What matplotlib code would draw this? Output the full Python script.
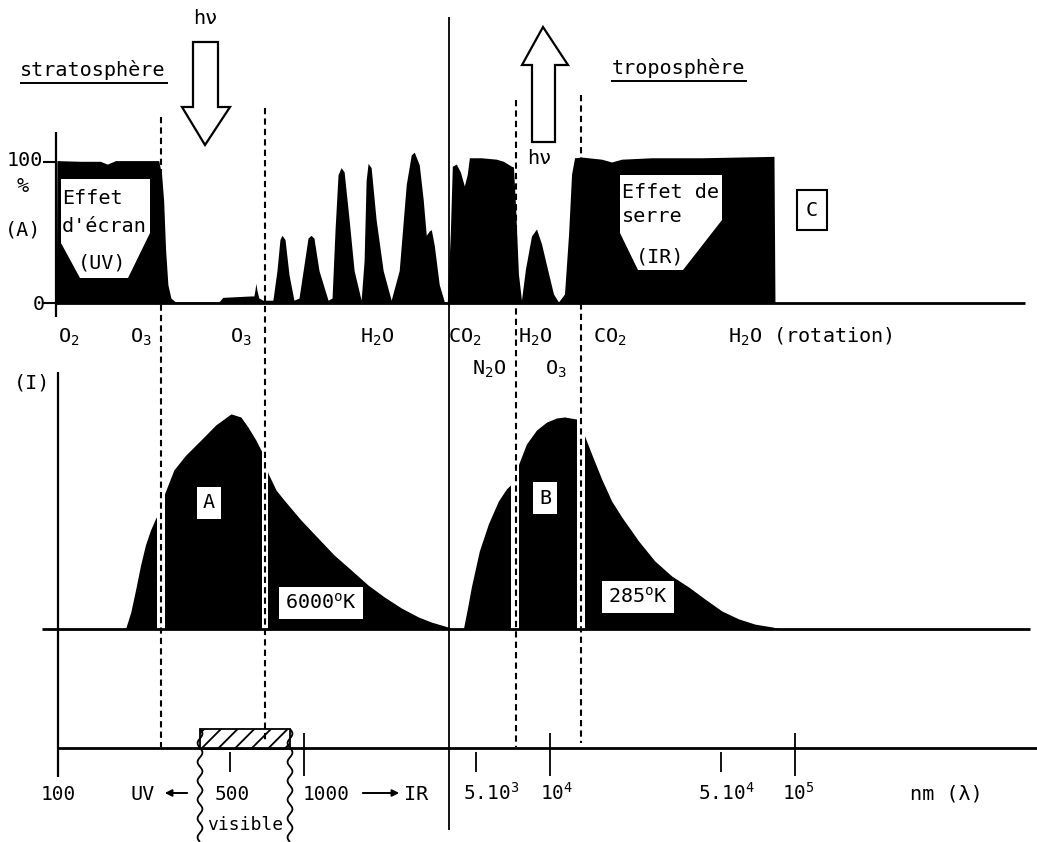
import numpy as np
import matplotlib
matplotlib.use("Agg")
import matplotlib.pyplot as plt
from matplotlib.patches import Polygon, Rectangle
from matplotlib.transforms import blended_transform_factory

plt.rcParams['font.family'] = ['DejaVu Sans Mono']
plt.rcParams['mathtext.fontset'] = 'custom'
plt.rcParams['mathtext.rm'] = 'DejaVu Sans Mono'
plt.rcParams['mathtext.it'] = 'DejaVu Sans Mono'
plt.rcParams['mathtext.default'] = 'regular'
plt.rcParams['hatch.linewidth'] = 1.3

# (A) atmospheric absorption, % vs wavelength in nm
abs_wl = [98, 98.5, 123, 148, 158, 171, 216, 256, 263, 268, 273, 279, 287, 300, 450, 467,
          608, 625, 631, 637, 643, 655, 680, 720,
          747, 776, 798, 813, 837, 869, 910,
          954, 1000, 1038, 1068, 1098, 1151, 1253,
          1301, 1338, 1376, 1416, 1457, 1527, 1600, 1709,
          1757, 1791, 1824, 1877, 1967, 2101, 2265,
          2442, 2609, 2734, 2812, 2948, 3060, 3148, 3237, 3300, 3393, 3556, 3728,
          3834, 3944, 4019, 4173, 4332, 4499, 4627, 4716, 5278, 6077, 6491, 6997, 7131, 7266, 7473, 7687,
          7980, 8445, 8849, 9276, 9813, 10380, 10880,
          11510, 11960, 12300, 12650, 13510, 16300, 17910, 19680, 26080, 41730, 82100, 82870]
abs_pct = [0, 101, 100.5, 100.5, 98.5, 101, 101, 101, 91, 73, 38, 13, 3.5, 0.7, 0.7, 4,
           5, 5, 9, 14, 9, 3.5, 2, 2,
           2, 23, 45, 48, 45, 20, 2,
           3.5, 27, 46, 48, 46, 23, 2,
           3.5, 52, 91, 96, 93, 59, 23, 2,
           30, 87, 99, 96, 59, 23, 2,
           23, 84, 105, 107, 98, 73, 48, 51, 52, 41, 13, 1,
           0, 49, 97, 98.5, 93, 83, 91.5, 103, 103, 102, 100.5, 97, 96.5, 70, 20.5, 2,
           24, 47.5, 52.5, 42, 24, 6.4, 0.7,
           6.4, 49, 91.5, 103, 103.5, 102, 100, 102, 103, 103, 104, 0]

# (I) emission of the sun (6000 K) and of the earth (285 K), arbitrary units
sun_wl = [188, 197, 206, 216, 226, 237, 249, 253, 271, 295, 330, 380, 437, 504, 553, 591, 637, 674,
          713, 769, 829, 972, 1140, 1326, 1555, 1824, 2121, 2489, 2920, 3300, 3728, 3981]
sun_int = [0.4, 6.6, 15.2, 24.9, 32.7, 38.5, 43.2, 44, 52.9, 61.9, 67.7, 73.5, 79.4, 83.7, 82.5, 78.6, 73.5, 68.9,
           60.7, 54.1, 50.2, 42.4, 35.4, 28.8, 23.0, 17.1, 12.5, 8.2, 4.7, 2.7, 1.2, 0.4]
earth_wl = [4457, 4627, 4804, 5180, 5637, 6191, 6675, 6997, 7545, 8056, 8849, 9722, 10680, 11510, 12890,
            13900, 14840, 16300, 17910, 19680, 23080, 26830, 31480, 36940, 42920, 50360, 59080, 68660, 80560, 88480]
earth_int = [0, 7.8, 16.3, 30.4, 40.9, 49.8, 54.5, 56.4, 65, 72, 77.4, 80.5, 82.1, 82.5, 81.7,
             75.1, 68.1, 58.4, 49.8, 43.6, 34.2, 26.5, 20.6, 16.3, 11.7, 7.0, 3.9, 1.9, 0.8, 0]

# windows cut out of the spectra (absorption band limits)
gap_lo = [253, 674, 6997, 12890]
gap_hi = [271, 713, 7545, 13900]
band_edges = [262, 695, 7300, 13400]
split_wl = 3900

# wavelength axis
tick_wl = [500, 1000, 5000, 1e4, 5e4, 1e5]
tick_major = [False, True, False, True, False, True]
tick_text = ['100', '500', '1000', '5.10$^3$', '10$^4$', '5.10$^4$', '10$^5$']
tick_text_wl = [100, 500, 1000, 5000, 1e4, 5e4, 1e5]

W, H = 1037, 842
fig = plt.figure(figsize=(10.37, 8.42), dpi=100)
x0_px, dec_px = 58.5, 245.5
wl_lo = 10 ** (2 - x0_px / dec_px)
wl_hi = 10 ** (2 + (W - x0_px) / dec_px)


def band(row_bottom, row_top):
    return [0, 1 - row_bottom / H, 1, (row_bottom - row_top) / H]


ax_a = fig.add_axes(band(303, 132), label='absorption')
ax_i = fig.add_axes(band(629, 372), label='intensity')
ax = fig.add_axes([0, 0, 1, 1], label='wavelength')
ax_p = fig.add_axes([0, 0, 1, 1], label='page')
for a in (ax_a, ax_i, ax):
    a.set_xscale('log')
    a.set_xlim(wl_lo, wl_hi)
ax_a.set_ylim(0, 100 * (303 - 132) / 141)
ax_i.set_ylim(0, 100)
ax.set_ylim(H, 0)
ax_p.set_xlim(0, W)
ax_p.set_ylim(H, 0)
for a in (ax_a, ax_i, ax, ax_p):
    a.axis('off')

# curves
ax_a.fill_between(abs_wl, abs_pct, 0, color='black', lw=0)
ax_i.fill_between(sun_wl, sun_int, 0, color='black', lw=0)
ax_i.fill_between(earth_wl, earth_int, 0, color='black', lw=0)
for lo, hi in zip(gap_lo, gap_hi):
    ax_i.axvspan(lo, hi, color='white', lw=0)

# band limits and separation
ax.vlines(band_edges, [117, 108, 100, 95], [747, 740, 747, 743], colors='black', lw=1.5, linestyles=(0, (3, 2)))
ax.vlines(split_wl, 17, 830, colors='black', lw=1.3)

# wavelength ticks
for wl, major in zip(tick_wl, tick_major):
    if major:
        ax.vlines(wl, 733, 776, colors='black', lw=1.3)
    else:
        ax.vlines(wl, 752, 772, colors='black', lw=1.3)
label_dx = [0, 2, 22, 16, 7, 5, 3]
for wl, txt, dx in zip(tick_text_wl, tick_text, label_dx):
    ax.annotate(txt, xy=(wl, 800), xytext=(dx * 0.72, 0), textcoords='offset points',
                ha='center', va='baseline', fontsize=14)

# axis lines
lk = dict(color='black', solid_capstyle='butt')
ax_p.plot([56, 56], [132, 317], lw=1.6, **lk)
ax_p.plot([56, 1025], [303, 303], lw=2.0, **lk)
ax_p.plot([58, 58], [372, 777], lw=1.6, **lk)
ax_p.plot([42, 1030], [629, 629], lw=2.0, **lk)
ax_p.plot([58, 1037], [748, 748], lw=2.0, **lk)
tr = blended_transform_factory(ax_p.transData, ax_a.transData)
for v in (0, 100):
    ax_p.plot([43, 56], [v, v], transform=tr, lw=1.5, **lk)

fs = 14.5
ax_p.text(43, 160, '100', ha='right', va='center', fontsize=fs)
ax_p.text(45, 305, '0', ha='right', va='center', fontsize=fs)
ax_p.text(23, 187, '%', ha='center', va='center', fontsize=fs)
ax_p.text(23, 230, '(A)', ha='center', va='center', fontsize=fs)
ax_p.text(32, 383, '(I)', ha='center', va='center', fontsize=fs)

# titles
ax_p.text(20, 70, 'stratosphère', ha='left', va='center', fontsize=fs)
ax_p.plot([20, 168], [83, 83], lw=1.4, **lk)
ax_p.text(612, 68, 'troposphère', ha='left', va='center', fontsize=fs)
ax_p.plot([611, 747], [81, 81], lw=1.4, **lk)

# incoming / outgoing radiation arrows
ax_p.add_patch(Polygon([(193, 42), (218, 42), (218, 107), (230, 107), (205, 145), (182, 107), (193, 107)],
                       closed=True, fc='white', ec='black', lw=1.6))
ax_p.text(205, 18, 'hν', ha='center', va='center', fontsize=fs)
ax_p.add_patch(Polygon([(532, 142), (555, 142), (555, 65), (568, 65), (543, 27), (522, 65), (532, 65)],
                       closed=True, fc='white', ec='black', lw=1.6))
ax_p.text(539, 158, 'hν', ha='center', va='center', fontsize=fs)

# screen / greenhouse labels
ax_p.add_patch(Polygon([(61, 179), (150, 179), (150, 233), (128, 278), (80, 278), (61, 243)],
                       closed=True, fc='white', ec='none', zorder=3))
ax_p.text(62, 198, 'Effet', ha='left', va='center', fontsize=fs, zorder=4)
ax_p.text(62, 227, "d'écran", ha='left', va='center', fontsize=fs, zorder=4)
ax_p.text(102, 263, '(UV)', ha='center', va='center', fontsize=fs, zorder=4)
ax_p.add_patch(Polygon([(620, 175), (722, 175), (722, 220), (683, 270), (638, 270), (620, 233)],
                       closed=True, fc='white', ec='none', zorder=3))
ax_p.text(622, 192, 'Effet de', ha='left', va='center', fontsize=fs, zorder=4)
ax_p.text(622, 217, 'serre', ha='left', va='center', fontsize=fs, zorder=4)
ax_p.text(660, 257, '(IR)', ha='center', va='center', fontsize=fs, zorder=4)
ax_p.add_patch(Rectangle((797, 190), 30, 40, fill=False, ec='black', lw=1.5))
ax_p.text(812, 211, 'C', ha='center', va='center', fontsize=fs)

# absorbing gases
row1 = [('O$_2$', 58), ('O$_3$', 130), ('O$_3$', 230), ('H$_2$O', 360), ('CO$_2$', 448),
        ('H$_2$O', 518), ('CO$_2$', 593), ('H$_2$O (rotation)', 728)]
for txt, x in row1:
    ax_p.text(x, 343, txt, ha='left', va='baseline', fontsize=fs)
for txt, x in [('N$_2$O', 472), ('O$_3$', 545)]:
    ax_p.text(x, 375, txt, ha='left', va='baseline', fontsize=fs)

# spectrum labels
box = dict(fc='white', ec='none', boxstyle='square,pad=0.3')
ax_p.text(209, 503, 'A', ha='center', va='center', fontsize=fs, bbox=box, zorder=4)
ax_p.text(321, 603, '6000$^o$K', ha='center', va='center', fontsize=fs, bbox=box, zorder=4)
ax_p.text(545, 498, 'B', ha='center', va='center', fontsize=fs, bbox=box, zorder=4)
ax_p.text(638, 597, '285$^o$K', ha='center', va='center', fontsize=fs, bbox=box, zorder=4)

# UV / visible / IR
ax_p.text(130, 800, 'UV', ha='left', va='baseline', fontsize=fs)
ax_p.annotate('', xy=(162, 793), xytext=(190, 793),
              arrowprops=dict(arrowstyle='-|>', lw=1.4, color='black', mutation_scale=10))
ax_p.annotate('', xy=(402, 793), xytext=(360, 793),
              arrowprops=dict(arrowstyle='-|>', lw=1.4, color='black', mutation_scale=10))
ax_p.text(404, 800, 'IR', ha='left', va='baseline', fontsize=fs)
ax_p.text(910, 800, 'nm (λ)', ha='left', va='baseline', fontsize=fs)
ax_p.add_patch(Rectangle((200, 729), 90, 20, fill=False, ec='black', lw=1.3, hatch='//'))
rows = np.linspace(729, 842, 60)
for xb in (200, 290):
    ax_p.plot(xb + 2.5 * np.sin((rows - 729) / 3.0), rows, lw=1.3, **lk)
ax_p.text(245, 825, 'visible', ha='center', va='center', fontsize=13)

fig.savefig('out.png', dpi=100, facecolor='white')
